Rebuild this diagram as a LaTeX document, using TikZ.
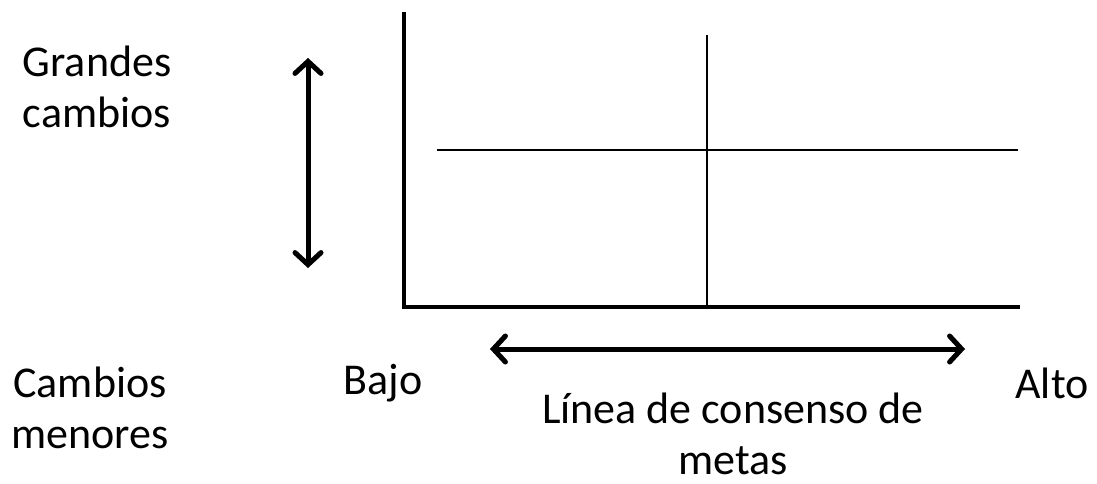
\documentclass[tikz,border=0pt]{standalone}
\usepackage{fontspec}
\setmainfont{Carlito}
\usetikzlibrary{arrows.meta}
\begin{document}
\begin{tikzpicture}[x=1pt,y=-1pt,
  lbl/.style={font=\fontsize{44}{51}\selectfont, align=center, inner sep=0pt},
  axis/.style={line width=4pt},
  thin/.style={line width=1.5pt},
  dbl/.style={line width=5pt, {Straight Barb[length=12pt,width=26pt,line cap=round]}-{Straight Barb[length=12pt,width=26pt,line cap=round]}},
  shadow/.style={gray!30, shift={(2pt,-2.5pt)}}
]
\useasboundingbox (0,0) rectangle (1097,484);
% coordinates
\coordinate (ytop) at (404,12);
\coordinate (orig) at (404,307);
\coordinate (xend) at (1020,307);
\coordinate (vtop) at (707,35);
\coordinate (vbot) at (707,307);
\coordinate (hl) at (437,150);
\coordinate (hr) at (1018,150);
\coordinate (va) at (308,58);
\coordinate (vb) at (308,268);
\coordinate (ha) at (490,349);
\coordinate (hb) at (965,349);
% shadows
\draw[axis,shadow] (ytop) -- (orig) -- (xend);
\draw[thin,shadow] (vtop) -- (vbot);
\draw[thin,shadow] (hl) -- (hr);
\draw[dbl,shadow] (va) -- (vb);
\draw[dbl,shadow] (ha) -- (hb);
% lines
\draw[thin] (vtop) -- (vbot);
\draw[thin] (hl) -- (hr);
\draw[axis] (ytop) -- (orig) -- (xend);
\draw[dbl] (va) -- (vb);
\draw[dbl] (ha) -- (hb);
% labels
\node[lbl] (gc) at (97,87) {Grandes\\cambios};
\node[lbl] (cm) at (90,408) {Cambios\\menores};
\node[lbl] (bajo) at (383,383) {Bajo};
\node[lbl] (alto) at (1052,383) {Alto};
\node[lbl] (lin) at (733,434) {Línea de consenso de\\metas};
\end{tikzpicture}
\end{document}
